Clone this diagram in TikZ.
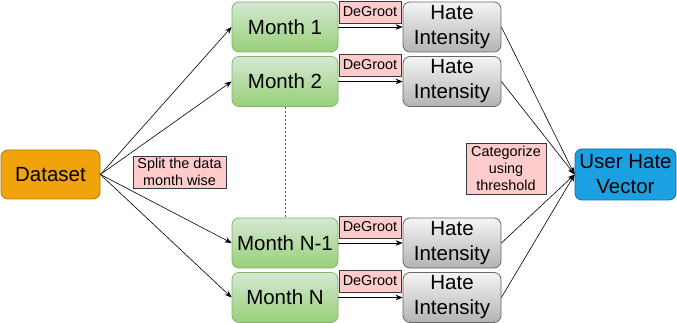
\documentclass[tikz,border=0pt]{standalone}
\usepackage{fontspec}
\setmainfont{Liberation Sans}
\usetikzlibrary{arrows.meta}

\definecolor{monthtop}{HTML}{D5E8D4}
\definecolor{monthbot}{HTML}{97D077}
\definecolor{monthline}{HTML}{82B366}
\definecolor{hatetop}{HTML}{F5F5F5}
\definecolor{hatebot}{HTML}{B3B3B3}
\definecolor{hateline}{HTML}{666666}
\definecolor{datafill}{HTML}{F0A30A}
\definecolor{dataline}{HTML}{BD7000}
\definecolor{vecfill}{HTML}{1BA1E2}
\definecolor{vecline}{HTML}{006EAF}
\definecolor{tagfill}{HTML}{FFCCCC}
\definecolor{tagline}{HTML}{36393D}

\begin{document}
\begin{tikzpicture}[x=1pt, y=-1pt,
  box/.style={rectangle, draw, rounded corners=7pt, align=center, line width=0.8pt, inner sep=0pt, font=\fontsize{20.5}{25}\selectfont},
  monthbox/.style={box, draw=monthline, top color=monthtop, bottom color=monthbot, minimum width=106pt, minimum height=50pt},
  hatebox/.style={box, draw=hateline, top color=hatetop, bottom color=hatebot, minimum width=98pt, minimum height=50pt},
  tag/.style={rectangle, draw=tagline, fill=tagfill, align=center, inner sep=0pt, line width=0.6pt, font=\fontsize{14.4}{17}\selectfont},
  arrow/.style={-{Stealth[length=7pt, width=5.5pt]}, line width=0.6pt},
]
\useasboundingbox (0,0) rectangle (677,323);

% === SOURCE ===
\node[box, draw=dataline, fill=datafill, minimum width=99pt, minimum height=49pt] (dataset) at (50.5, 174.5) {Dataset};

% === MONTHLY SPLITS ===
\node[monthbox] (month1)   at (285, 27)    {Month 1};
\node[monthbox] (month2)   at (285, 81.5)  {Month 2};
\node[monthbox] (monthNm1) at (285, 243)   {Month N-1};
\node[monthbox] (monthN)   at (285, 297.5) {Month N};

% === HATE INTENSITY PER MONTH ===
\node[hatebox] (hate1)   at (452, 27)    {Hate\\Intensity};
\node[hatebox] (hate2)   at (452, 81.5)  {Hate\\Intensity};
\node[hatebox] (hateNm1) at (452, 243)   {Hate\\Intensity};
\node[hatebox] (hateN)   at (452, 297.5) {Hate\\Intensity};

% === RESULT ===
\node[box, draw=vecline, fill=vecfill, minimum width=101pt, minimum height=51pt] (uhv) at (625.5, 174.5) {User Hate\\Vector};

% === EDGE TAGS ===
\node[tag, minimum width=93pt, minimum height=32pt] (split) at (179.5, 172) {Split the data\\month wise};
\node[tag, minimum width=80pt, minimum height=51pt] (categ) at (506, 168.5) {Categorize\\using\\threshold};
\foreach \y/\n in {12/1, 65/2, 227/3, 281/4}
  \node[tag, minimum width=62pt, minimum height=22pt] (degroot\n) at (370, \y) {DeGroot};

% === CONNECTORS ===
\foreach \m in {month1, month2, monthNm1, monthN}
  \draw[arrow] (dataset.east) -- (\m.west);
\draw[arrow] (month1) -- (hate1);
\draw[arrow] (month2) -- (hate2);
\draw[arrow] (monthNm1) -- (hateNm1);
\draw[arrow] (monthN) -- (hateN);
\foreach \h in {hate1, hate2, hateNm1, hateN}
  \draw[arrow] (\h.east) -- (uhv.west);
\draw[dash pattern=on 2pt off 2pt, gray!70!black, line width=0.6pt] (month2) -- (monthNm1);
\end{tikzpicture}
\end{document}
